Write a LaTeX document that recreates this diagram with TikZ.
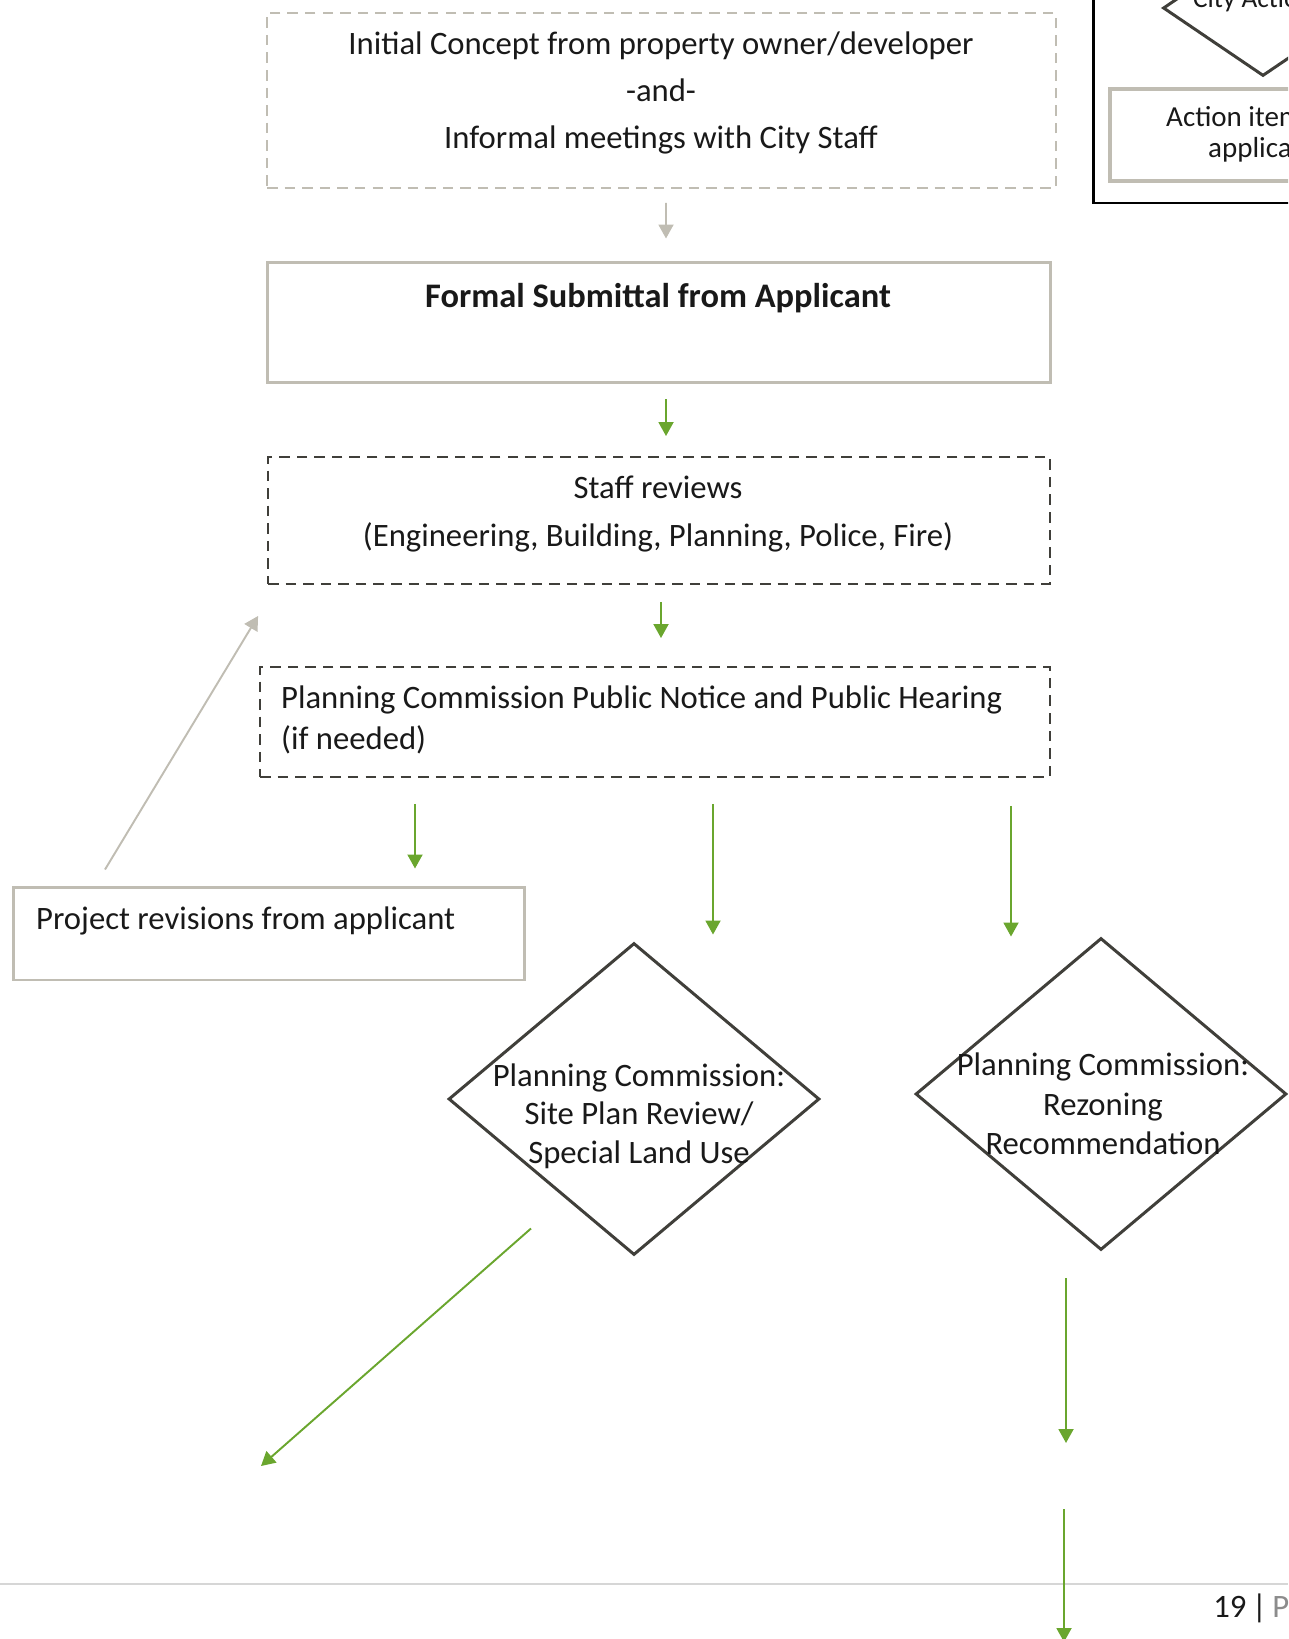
\documentclass[tikz,border=0pt]{standalone}
\usepackage{fontspec}
\setmainfont{Carlito}
\usepackage{tikz}
\usetikzlibrary{calc,arrows.meta,shapes.geometric}
\definecolor{boxgray}{HTML}{C0BDB3}
\definecolor{edgedark}{HTML}{403F3A}
\definecolor{flowgreen}{HTML}{6AA62E}
\definecolor{rulegray}{HTML}{D6D6D6}
\definecolor{pagegray}{HTML}{8C8C8C}

\begin{document}
\begin{tikzpicture}[x=0.02cm,y=-0.02cm,
  every node/.style={font=\fontsize{18.6}{23}\selectfont,text=black!90},
  graybox/.style={draw=boxgray,line width=1.7pt,inner sep=0pt},
  dashgray/.style={draw=boxgray,line width=1.1pt,dash pattern=on 6pt off 4pt,inner sep=0pt},
  dashdark/.style={draw=edgedark,line width=1.1pt,dash pattern=on 6pt off 4pt,inner sep=0pt},
  decision/.style={diamond,draw=edgedark,line width=1.7pt,inner sep=0pt,
    minimum width=7.42cm,minimum height=6.24cm},
  greenflow/.style={draw=flowgreen,line width=1.1pt,-{Triangle[width=0.3cm,length=0.28cm]}},
  grayflow/.style={draw=boxgray,line width=1.1pt,-{Triangle[width=0.3cm,length=0.28cm]}}]
\useasboundingbox (0,0) rectangle (1288,1639);
\clip (0,0) rectangle (1288,1639);

\node[dashgray,minimum width=15.78cm,minimum height=3.5cm] (concept) at (661.5,100.5) {};
\node[align=center,font=\fontsize{18.6}{26.7}\selectfont] (concepttext) at (661,93)
  {Initial Concept from property owner/developer\\-and-\\Informal meetings with City Staff};
\node[graybox,minimum width=15.68cm,minimum height=2.42cm] (submit) at (659,322.5) {};
\node[font=\fontsize{19.6}{23}\bfseries] (submittext) at (658,298) {Formal Submittal from Applicant};
\node[dashdark,minimum width=15.64cm,minimum height=2.54cm] (staff) at (659,520.5) {};
\node[align=center,font=\fontsize{18.6}{27.3}\selectfont] (stafftext) at (658,514)
  {Staff reviews\\(Engineering, Building, Planning, Police, Fire)};
\node[dashdark,minimum width=15.8cm,minimum height=2.2cm] (notice) at (655,722) {};
\node[anchor=west,align=left] (noticetext) at (275,720)
  {Planning Commission Public Notice and Public Hearing\\(if needed)};
\node[graybox,minimum width=10.24cm,minimum height=1.86cm] (revise) at (269,933.5) {};
\node[anchor=west] (revisetext) at (30,921) {Project revisions from applicant};

\node[decision] (site) at (634,1099) {};
\node[align=center,font=\fontsize{18.6}{21.9}\selectfont] (sitetext) at (639,1116)
  {Planning Commission:\\Site Plan Review/\\Special Land Use};
\node[decision] (rezone) at (1101,1094) {};
\node[align=center,font=\fontsize{18.6}{22.5}\selectfont] (rezonetext) at (1103,1104)
  {Planning Commission:\\Rezoning\\Recommendation};

\draw[black,line width=1.7pt] (1400,-20) -| (1093,203) -- (1400,203);
\node[diamond,draw=edgedark,line width=1.7pt,inner sep=0pt,minimum width=4cm,minimum height=2.72cm]
  (city) at (1263,8) {};
\node[anchor=base west,font=\fontsize{15.5}{19}\selectfont] (citytext) at (1187,8) {City Action};
\draw[boxgray,line width=2pt] (1400,89) -| (1110,181) -- (1400,181);
\node[anchor=west,font=\fontsize{16.5}{20}\selectfont] (actiontext) at (1160,117) {Action item};
\node[anchor=west,font=\fontsize{16.5}{20}\selectfont] (applytext) at (1202,150) {applican};

\draw[grayflow] ($(concept.south)+(4.5,14)$) -- ($(submit.north)+(7,-22)$);
\draw[greenflow] ($(submit.south)+(7,15)$) -- ($(staff.north)+(7,-20)$);
\draw[greenflow] ($(staff.south)+(2,17)$) -- ($(notice.north)+(6,-28)$);
\draw[greenflow] ($(notice.south)+(-240,26)$) -- ($(revise.north)+(146,-17)$);
\draw[greenflow] ($(notice.south)+(58,26)$) -- ($(site.north)+(79,-7)$);
\draw[greenflow] ($(notice.south)+(356,28)$) -- ($(rezone.north)+(-90,0)$);
\draw[grayflow] ($(revise.north)+(-164,-16)$) -- ($(staff.south west)+(-9,31)$);

\coordinate (approve) at (261,1466);
\coordinate (council) at (1066,1443);
\coordinate (nextstep) at (1064,1509);
\coordinate (pageend) at (1064,1642);
\draw[greenflow] ($(site.south)+(-103,-28)$) -- (approve);
\draw[greenflow] ($(rezone.south)+(-35,27)$) -- (council);

\coordinate (ruleleft) at (0,1584);
\coordinate (ruleright) at (1288,1584);
\draw[rulegray,line width=1pt] (ruleleft) -- (ruleright);
\draw[greenflow] (nextstep) -- (pageend);
\node[anchor=west,inner sep=0pt] (pagenum) at (1213,1608) {19\,\textbar\,\textcolor{pagegray}{P}};
\end{tikzpicture}
\end{document}
